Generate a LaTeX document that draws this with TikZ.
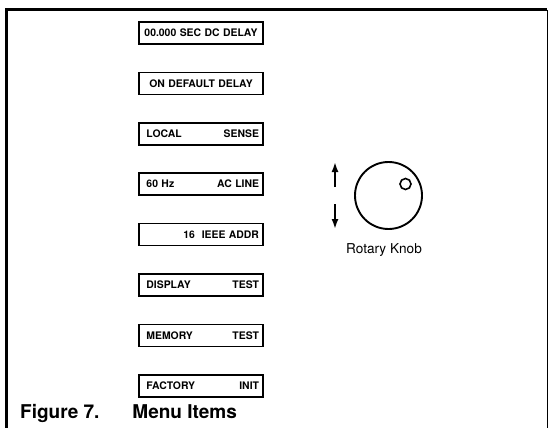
\documentclass[tikz,border=0pt]{standalone}
\usepackage{fontspec}
\setmainfont{TeX Gyre Heros}
\usetikzlibrary{arrows.meta,positioning}

\begin{document}
\begin{tikzpicture}[x=1pt,y=-1pt,>={Latex[length=10pt,width=7pt]},
    menubox/.style={draw,line width=1.7pt,minimum height=22pt,text width=116pt,
      inner xsep=4pt,inner ysep=0pt,font=\fontsize{10.4}{11}\selectfont\bfseries},
    node distance=26.7pt]
  \useasboundingbox (0,0) rectangle (549,428);
  % frame
  \draw[line width=3pt] (6,428)--(6,10)--(547,10);
  \draw[line width=1pt] (547,10)--(547,428);
  % menu items
  \node[menubox,align=center] (delay) at (201,33) {00.000 SEC DC DELAY};
  \node[menubox,align=center,below=of delay] (default) {ON DEFAULT DELAY};
  \node[menubox,below=of default] (sense) {\ LOCAL\hfill SENSE\ };
  \node[menubox,below=of sense] (acline) {\ 60 Hz\hfill AC LINE\ };
  \node[menubox,below=of acline] (addr) {\hfill 16\ \ IEEE ADDR\ };
  \node[menubox,below=of addr] (disp) {\ DISPLAY\hfill TEST\ };
  \node[menubox,below=of disp] (mem) {\ MEMORY\hfill TEST\ };
  \node[menubox,below=of mem] (init) {\ FACTORY\hfill INIT\ };
  % rotary knob
  \node[draw,circle,line width=1.9pt,minimum size=67pt,inner sep=0pt] (knob) at (388.5,195.5) {};
  \node[draw,circle,line width=1.6pt,minimum size=11pt,inner sep=0pt] (dot) at (405.5,184) {};
  \coordinate (upA) at (335,187);
  \coordinate (upB) at (335,162);
  \coordinate (dnA) at (335,204);
  \coordinate (dnB) at (335,229);
  \draw[->,line width=1.8pt] (upA)--(upB);
  \draw[->,line width=1.8pt] (dnA)--(dnB);
  \node[font=\fontsize{13.6}{15}\selectfont,anchor=base] (knoblbl) at (384,253) {Rotary Knob};
  % caption
  \node[font=\fontsize{19}{21}\selectfont\bfseries,anchor=base west,inner sep=0pt] (fig) at (20,418) {Figure 7.\hspace{33pt}Menu Items};
\end{tikzpicture}
\end{document}
